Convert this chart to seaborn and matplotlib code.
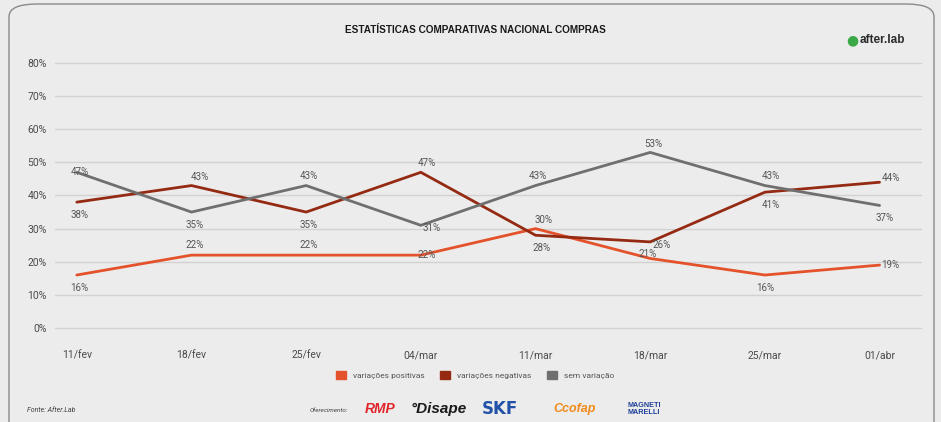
import matplotlib
matplotlib.use("Agg")
import matplotlib.pyplot as plt
from matplotlib.patches import FancyBboxPatch, Patch
import seaborn as sns
import pandas as pd

# Weekly purchase statistics (share of respondents, %)
weeks = ["11/fev", "18/fev", "25/fev", "04/mar", "11/mar", "18/mar", "25/mar", "01/abr"]
positivas = [16, 22, 22, 22, 30, 21, 16, 19]
negativas = [38, 43, 35, 47, 28, 26, 41, 44]
sem_variacao = [47, 35, 43, 31, 43, 53, 43, 37]
series_names = ["variações positivas", "variações negativas", "sem variação"]
y_ticks = [0, 10, 20, 30, 40, 50, 60, 70, 80]

colors = ["#e4522b", "#952a13", "#6f6f6f"]

rows = []
for name, vals in zip(series_names, [positivas, negativas, sem_variacao]):
    for i, (w, v) in enumerate(zip(weeks, vals)):
        rows.append({"idx": i, "week": w, "serie": name, "valor": v})
df = pd.DataFrame(rows)

sns.set_theme(style="white")
plt.rcParams["font.family"] = ["Roboto", "DejaVu Sans"]

bg = "#ececec"
fig = plt.figure(figsize=(9.41, 4.22), dpi=100, facecolor=bg)

# rounded frame around the card
frame = FancyBboxPatch((9 / 941, -0.05), 925 / 941, (422 - 4) / 422 + 0.05,
                       boxstyle="round,pad=0,rounding_size=0.03",
                       transform=fig.transFigure, facecolor=bg,
                       edgecolor="#8a8a8a", linewidth=1.0, zorder=-5)
fig.patches.append(frame)

ax = fig.add_axes([55 / 941, (422 - 335) / 422, (922 - 55) / 941, (335 - 55) / 422])
ax.set_zorder(2)
ax.set_facecolor("none")

sns.lineplot(data=df, x="idx", y="valor", hue="serie", hue_order=series_names,
             palette=colors, linewidth=2.0, ax=ax, legend=False, zorder=3)

ax.set_xlim(-0.19, 7.37)
ax.set_ylim(-2.1, 82.4)
ax.set_yticks(y_ticks)
ax.set_yticklabels([f"{t}%" for t in y_ticks])
ax.set_xticks(range(len(weeks)))
ax.set_xticklabels(weeks)
ax.set_xlabel("")
ax.set_ylabel("")
for s in ax.spines.values():
    s.set_visible(False)
ax.grid(False)
for t in y_ticks:
    ax.axhline(t, color="#d2d2d2", linewidth=1.0, zorder=1)
ax.tick_params(axis="y", length=0, pad=6, labelsize=7.5, labelcolor="#4a4a4a")
ax.tick_params(axis="x", length=0, pad=11, labelsize=7.5, labelcolor="#4a4a4a")

# value labels, offsets in points
off_pos = [(2, -9), (2, 7), (2, 7), (4, 0), (6, 6), (-2, 3), (0, -9), (8, 0)]
off_neg = [(2, -9), (6, 6), (2, -9), (4, 7), (4, -9), (8, -2), (4, -9), (8, 3)]
off_sem = [(2, 0), (2, -9), (2, 7), (8, -2), (2, 7), (2, 6), (4, 7), (4, -9)]
for vals, offs in zip([positivas, negativas, sem_variacao], [off_pos, off_neg, off_sem]):
    for i, (v, (dx, dy)) in enumerate(zip(vals, offs)):
        ax.annotate(f"{v}%", (i, v), xytext=(dx, dy), textcoords="offset points",
                    ha="center", va="center", fontsize=7, color="#555555", zorder=4)

# title and brand
fig.text(475 / 941, 1 - 30 / 422, "ESTATÍSTICAS COMPARATIVAS NACIONAL COMPRAS",
         ha="center", va="center", fontsize=7.2, fontweight="bold",
         color="#1a1a1a", family=["Liberation Sans", "DejaVu Sans"])
fig.text(852 / 941, 1 - 40 / 422, "●", ha="center", va="center", fontsize=10,
         color="#3aa845", family="DejaVu Sans")
fig.text(860 / 941, 1 - 40 / 422, "after.lab", ha="left", va="center",
         fontsize=8.5, color="#2b2b2b", fontweight="bold",
         family=["Liberation Sans", "DejaVu Sans"])

# legend
handles = [Patch(facecolor=c, edgecolor=c) for c in colors]
fig.legend(handles, series_names, loc="center", bbox_to_anchor=(475 / 941, 1 - 375 / 422),
           ncol=3, frameon=False, fontsize=6, handlelength=1.2, handleheight=1.2,
           columnspacing=1.8, handletextpad=0.9, labelcolor="#555555")

# footer
fig.text(27 / 941, 1 - 410 / 422, "Fonte: After.Lab", ha="left", va="center",
         fontsize=5, style="italic", color="#444444")
fig.text(310 / 941, 1 - 410 / 422, "Oferecimento:", ha="left", va="center",
         fontsize=4.5, style="italic", color="#444444")
fig.text(365 / 941, 1 - 409 / 422, "RMP", ha="left", va="center", fontsize=10,
         fontweight="bold", style="italic", color="#e0262b",
         family=["Liberation Sans", "DejaVu Sans"])
fig.text(411 / 941, 1 - 409 / 422, "°Disape", ha="left", va="center", fontsize=11,
         fontweight="bold", style="italic", color="#1a1a1a",
         family=["Liberation Sans", "DejaVu Sans"])
fig.text(482 / 941, 1 - 409 / 422, "SKF", ha="left", va="center", fontsize=12,
         fontweight="bold", color="#2251a8", family=["DejaVu Sans"])
fig.text(553 / 941, 1 - 409 / 422, "Ccofap", ha="left", va="center", fontsize=9,
         fontweight="bold", style="italic", color="#f08a1c",
         family=["Liberation Sans", "DejaVu Sans"])
fig.text(627 / 941, 1 - 409 / 422, "MAGNETI\nMARELLI", ha="left", va="center",
         fontsize=5.2, fontweight="bold", color="#1f3f9a", linespacing=0.9,
         family=["Liberation Sans", "DejaVu Sans"])

fig.savefig("out.png", dpi=100, facecolor=bg)
